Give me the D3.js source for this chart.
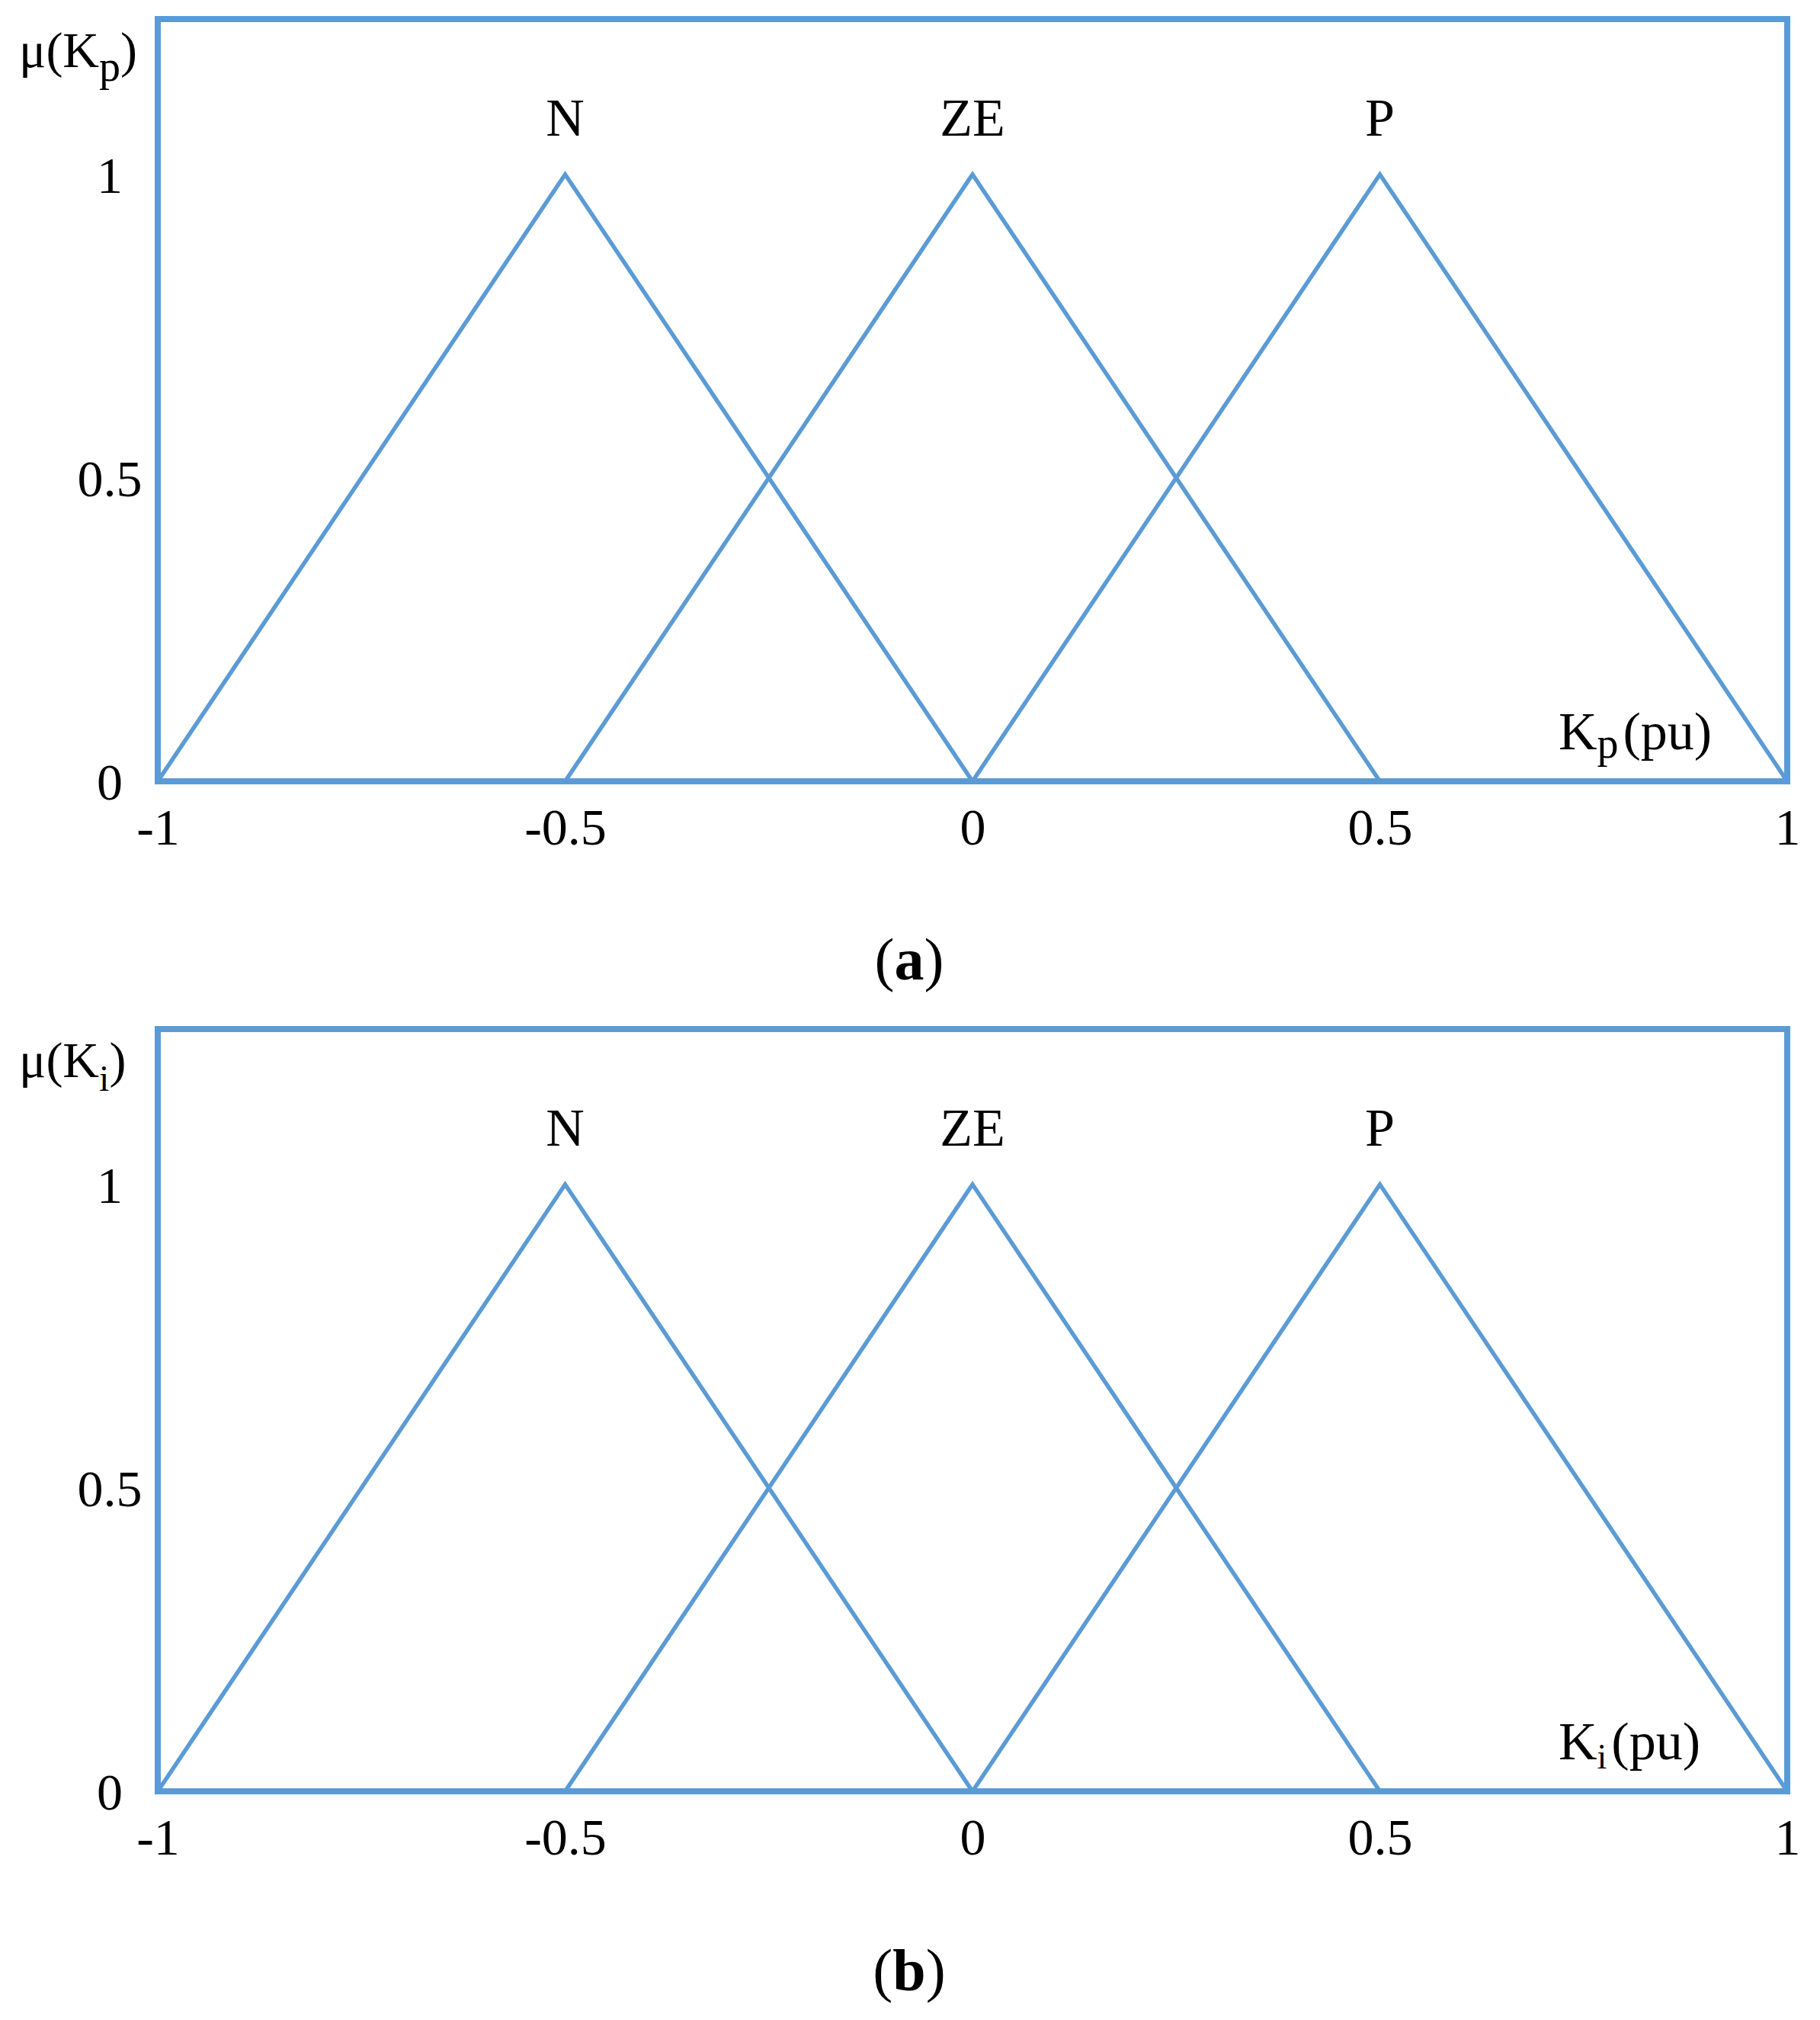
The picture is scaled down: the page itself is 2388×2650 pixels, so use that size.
<!DOCTYPE html>
<html>
<head>
<meta charset="utf-8">
<script src="https://cdn.jsdelivr.net/npm/d3@7"></script>
<style>
  body { margin: 0; background: #fff; }
  text { font-family: "Liberation Serif", "Times New Roman", serif; fill: #000; }
</style>
</head>
<body>
<div id="chart"></div>
<script>
// tick values
const xTicks = [-1, -0.5, 0, 0.5, 1];
const yTicks = [0, 0.5, 1];

// fuzzy sets: name, left foot, peak, right foot
const setNames = ["N", "ZE", "P"];
const setLeft = [-1, -0.5, 0];
const setPeak = [-0.5, 0, 0.5];
const setRight = [0, 0.5, 1];

// panels
const panelVars = ["p", "i"];
const panelCaptions = ["a", "b"];

const blue = "#5b9bd5";
const width = 2388, height = 2650;
const margin = {top: 25, left: 207, right: 43};
const plotH = 1000, panelStep = 1325;

const svg = d3.select("#chart")
  .append("svg")
    .attr("width", width)
    .attr("height", height);

const x = d3.scaleLinear()
  .domain([-1, 1])
  .range([margin.left, width - margin.right]);

// frame top sits a bit above mu = 1
const y = d3.scaleLinear()
  .domain([0, 1.256])
  .range([margin.top + plotH, margin.top]);

const sets = setNames.map((n, i) => ({
  name: n,
  pts: [[setLeft[i], 0], [setPeak[i], 1], [setRight[i], 0]]
}));

const line = d3.line()
  .x(d => x(d[0]))
  .y(d => y(d[1]));

// plain hyphen for negatives, like the original
const fmt = d => String(d);

panelVars.forEach((v, k) => {
  const g = svg.append("g")
    .attr("transform", `translate(0, ${k * panelStep})`);

  // membership triangles
  g.selectAll(".mf")
    .data(sets)
    .join("path")
      .attr("class", "mf")
      .attr("d", d => line(d.pts))
      .attr("fill", "none")
      .attr("stroke", blue)
      .attr("stroke-width", 5.5)
      .attr("stroke-linejoin", "miter");

  // frame
  g.append("rect")
    .attr("x", x(-1))
    .attr("y", y.range()[1])
    .attr("width", x(1) - x(-1))
    .attr("height", y.range()[0] - y.range()[1])
    .attr("fill", "none")
    .attr("stroke", blue)
    .attr("stroke-width", 8);

  // set names
  g.selectAll(".setname")
    .data(sets)
    .join("text")
      .attr("class", "setname")
      .attr("x", d => x(d.pts[1][0]))
      .attr("y", y(1) - 51)
      .attr("text-anchor", "middle")
      .style("font-size", "70px")
      .text(d => d.name);

  // x axis
  const xa = g.append("g")
    .attr("transform", `translate(0, ${y(0)})`)
    .call(d3.axisBottom(x).tickValues(xTicks).tickSize(0).tickFormat(fmt));
  xa.select(".domain").remove();
  xa.selectAll("text")
    .attr("y", 83)
    .attr("dy", 0)
    .style("font-size", "68px")
    .style("font-family", "Liberation Serif, serif");

  // y axis
  const ya = g.append("g")
    .attr("transform", `translate(${x(-1)}, 0)`)
    .call(d3.axisLeft(y).tickValues(yTicks).tickSize(0).tickFormat(fmt));
  ya.select(".domain").remove();
  ya.selectAll("text")
    .attr("x", -63)
    .attr("dy", "0.35em")
    .attr("text-anchor", "middle")
    .style("font-size", "68px")
    .style("font-family", "Liberation Serif, serif");

  // y label  mu(K_v)
  const yl = g.append("text")
    .attr("x", 25)
    .attr("y", 88)
    .style("font-size", "66px");
  yl.append("tspan").text("\u03bc(K");
  yl.append("tspan")
    .attr("dy", 18)
    .style("font-size", v == "p" ? "56px" : "48px")
    .text(v);
  yl.append("tspan").attr("dy", -18).text(")");

  // x label  K_v(pu)
  const xl = g.append("text")
    .attr("x", 2045)
    .attr("y", 983)
    .style("font-size", "70px");
  xl.append("tspan").text("K");
  xl.append("tspan")
    .attr("dy", v == "p" ? 11 : 12)
    .style("font-size", v == "p" ? "56px" : "46px")
    .text(v);
  xl.append("tspan")
    .attr("dy", v == "p" ? -11 : -12)
    .attr("dx", 6)
    .text("(pu)");

  // caption
  const cap = g.append("text")
    .attr("x", 1193)
    .attr("y", 1285 + (k == 1 ? 1 : 0))
    .attr("text-anchor", "middle")
    .style("font-size", "78px");
  cap.append("tspan").text("(");
  cap.append("tspan").style("font-weight", "bold").text(panelCaptions[k]);
  cap.append("tspan").text(")");
});
</script>
</body>
</html>
